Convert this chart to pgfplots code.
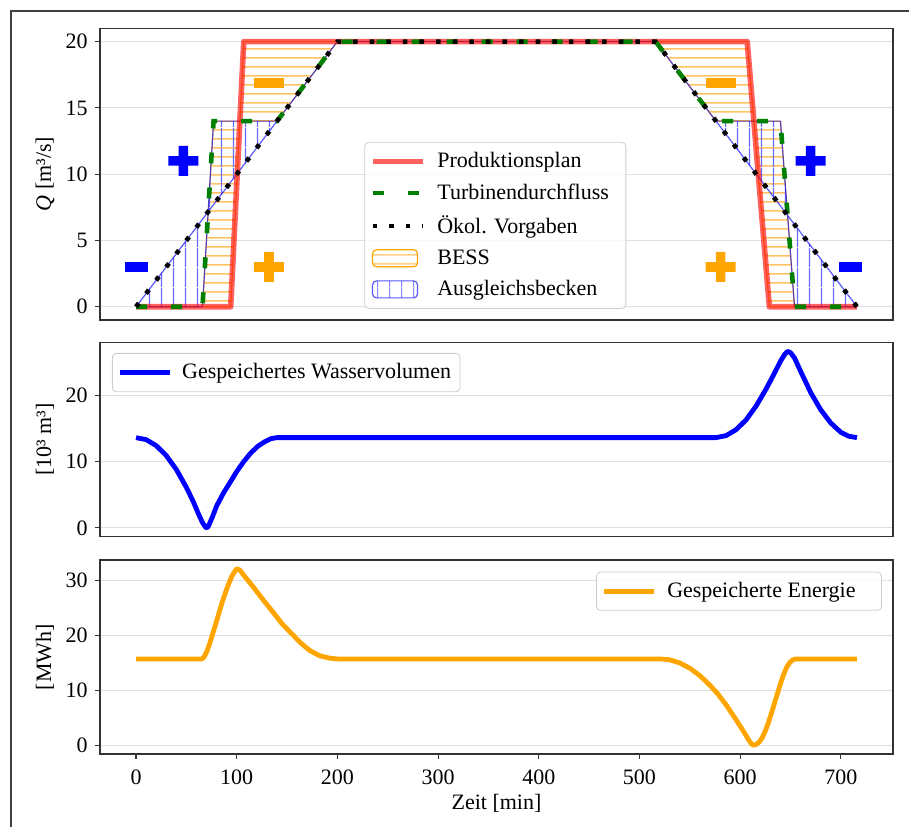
\documentclass[border=0pt]{standalone}
\usepackage{fontspec}
\setmainfont{Liberation Serif}
\usepackage{pgfplots}
\pgfplotsset{compat=1.18}
\usetikzlibrary{patterns}

\definecolor{mplorange}{RGB}{255,165,0}
\definecolor{mplgreen}{RGB}{0,128,0}
\definecolor{hatchblue}{RGB}{105,105,255}
\definecolor{hatchorange}{RGB}{255,195,100}

\pgfdeclarepatterninherentlycolored{hOrange}{\pgfpointorigin}{\pgfpoint{10pt}{4.5pt}}{\pgfpoint{10pt}{4.5pt}}{%
  \pgfsetstrokecolor{hatchorange}\pgfsetlinewidth{0.85pt}%
  \pgfpathmoveto{\pgfpoint{0pt}{2.25pt}}\pgfpathlineto{\pgfpoint{10pt}{2.25pt}}\pgfusepath{stroke}}
\pgfdeclarepatterninherentlycolored{vBlue}{\pgfpointorigin}{\pgfpoint{6pt}{10pt}}{\pgfpoint{6pt}{10pt}}{%
  \pgfsetstrokecolor{hatchblue}\pgfsetlinewidth{0.6pt}%
  \pgfpathmoveto{\pgfpoint{3pt}{0pt}}\pgfpathlineto{\pgfpoint{3pt}{10pt}}\pgfusepath{stroke}}

\pgfdeclareplotmark{fatplus}{%
  \pgfpathrectangle{\pgfpoint{-7.5pt}{-2.4pt}}{\pgfpoint{15pt}{4.8pt}}%
  \pgfpathrectangle{\pgfpoint{-2.4pt}{-7.5pt}}{\pgfpoint{4.8pt}{15pt}}%
  \pgfusepathqfill}
\pgfdeclareplotmark{fatminus}{%
  \pgfpathrectangle{\pgfpoint{-7.5pt}{-2.5pt}}{\pgfpoint{15pt}{5pt}}%
  \pgfusepathqfill}
\pgfdeclareplotmark{fatminussmall}{%
  \pgfpathrectangle{\pgfpoint{-5.8pt}{-2.3pt}}{\pgfpoint{11.6pt}{4.6pt}}%
  \pgfusepathqfill}

\pgfplotsset{
  myaxis/.style={
    scale only axis, width=396.5pt,
    xmin=-35.8, xmax=751.8,
    axis line style={black!80, line width=0.6pt},
    major tick style={black!80, line width=0.6pt},
    major tick length=2.6pt, tick align=outside,
    ymajorgrids, grid style={black!12, line width=0.6pt},
    ytick pos=left, xtick pos=bottom,
    /pgf/number format/assume math mode=true,
    tick label style={font=\fontsize{11}{13}\selectfont},
    xticklabel style={yshift=-2pt},
    label style={font=\fontsize{11}{13}\selectfont},
    ylabel style={at={(axis description cs:-0.0694,0.5)}, anchor=center},
    legend cell align=left,
    legend style={draw=black!20, rounded corners=2pt, fill=white, fill opacity=0.8,
      text opacity=1, font=\fontsize{11}{13}\selectfont, inner xsep=2.5pt, inner ysep=3pt},
  },
  linelegend/.style={legend image code/.code={\draw[##1] (0pt,0pt) -- (25pt,0pt);}},
}

\begin{document}
\begin{tikzpicture}
\useasboundingbox (0,0) rectangle (454.5pt,-413pt);
\draw[black!75, line width=0.8pt] (5.6pt,-440pt) -- (5.6pt,-5.6pt) -- (470pt,-5.6pt);

% ---------- top panel ----------
\begin{axis}[myaxis, at={(50pt,-14.15pt)}, anchor=north west,
  height=145.85pt, ymin=-1, ymax=21, ytick={0,5,10,15,20}, xtick=\empty,
  ylabel={\textit{Q} [m³/s]},
  legend style={at={(0.4985,0.038)}, anchor=south, row sep=2.6pt}]
% BESS area: between production plan and turbine flow
\addplot[draw=mplorange, draw opacity=0.85, line width=0.6pt, line join=round,
  pattern=hOrange, forget plot] coordinates {
  (0,0) (94,0) (107,20) (607,20) (629,0) (716,0)
  (654,0) (640,14) (576,14) (516,20) (200,20) (140,14) (77,14) (66,0) (0,0)};
% Ausgleichsbecken area: between turbine flow and ecological flow
\addplot[draw=blue, draw opacity=0.65, line width=0.6pt, line join=round,
  pattern=vBlue, forget plot] coordinates {
  (0,0) (66,0) (77,14) (140,14) (200,20) (516,20) (576,14) (640,14) (654,0) (716,0)
  (516,20) (200,20) (0,0)};
\addplot[red, opacity=0.62, line width=2.8pt, line join=round, linelegend]
  coordinates {(0,0) (94,0) (107,20) (607,20) (629,0) (716,0)};
\addlegendentry{\hspace{4pt}Produktionsplan}
\addplot[mplgreen, line width=2.3pt, dash pattern=on 5.5pt off 12pt, linelegend]
  coordinates {(0,0) (66,0) (77,14) (140,14) (200,20) (516,20) (576,14) (640,14) (654,0) (716,0)};
\addlegendentry{\hspace{4pt}Turbinendurchfluss\kern4pt}
\addplot[black, line width=2.3pt, dash pattern=on 2.3pt off 6pt, linelegend]
  coordinates {(0,0) (200,20) (516,20) (716,0)};
\addlegendentry{\hspace{4pt}Ökol. Vorgaben}
\addlegendimage{legend image code/.code={\draw[mplorange, line width=0.6pt, pattern=hOrange] (0pt,-4.25pt) rectangle (22.5pt,4.25pt);}}
\addlegendentry{\hspace{4pt}BESS}
\addlegendimage{legend image code/.code={\draw[blue!65, line width=0.6pt, pattern=vBlue] (0pt,-4.25pt) rectangle (22.5pt,4.25pt);}}
\addlegendentry{\hspace{4pt}Ausgleichsbecken}
\addplot[only marks, mark=fatplus, blue, forget plot] coordinates {(47,11.0) (670,11.0)};
\addplot[only marks, mark=fatminussmall, blue, forget plot] coordinates {(0.7,3.0) (709.7,3.0)};
\addplot[only marks, mark=fatplus, mplorange, forget plot] coordinates {(132,3.0) (580.6,3.0)};
\addplot[only marks, mark=fatminus, mplorange, forget plot] coordinates {(132,16.9) (580.6,16.9)};
\end{axis}

% ---------- middle panel ----------
\begin{axis}[myaxis, at={(50pt,-171.35pt)}, anchor=north west,
  height=97pt, ymin=-1.33, ymax=27.9, ytick={0,10,20}, xtick=\empty,
  ylabel={[10³ m³]},
  legend style={at={(0.0151,0.947)}, anchor=north west}]
\addplot[blue, line width=2.4pt, line join=round, linelegend] coordinates {
 (0,13.6) (10,13.3) (20,12.4) (30,10.9) (40,8.8) (50,6.1) (57,3.9) (62,2.1) (66,0.8) (69,0.1)
 (70.5,0.0) (72,0.3) (76,1.7) (80,3.3) (87,5.3) (94,7.0) (100,8.5) (107,10.0) (114,11.3)
 (121,12.3) (128,13.0) (134,13.45) (140,13.6) (576,13.6) (586,13.9) (596,14.8) (606,16.3)
 (616,18.4) (626,21.0) (634,23.3) (640,25.1) (644,26.1) (647,26.6) (650,26.4) (654,25.6)
 (660,23.6) (670,20.4) (680,17.8) (690,15.8) (700,14.4) (708,13.8) (716,13.6)};
\addlegendentry{\hspace{3pt}Gespeichertes Wasservolumen}
\end{axis}

% ---------- bottom panel ----------
\begin{axis}[myaxis, at={(50pt,-280pt)}, anchor=north west,
  height=97pt, ymin=-1.6, ymax=33.7, ytick={0,10,20,30}, xtick={0,100,...,700},
  ylabel={[MWh]}, xlabel={Zeit [min]},
  xlabel style={at={(axis description cs:0.5,-0.2526)}, anchor=center},
  legend style={at={(0.9861,0.940)}, anchor=north east}]
\addplot[mplorange, line width=2.4pt, line join=round, linelegend] coordinates {
 (0,15.7) (65,15.7) (67,15.9) (70,16.9) (73,18.4) (76,20.2) (80,22.6) (86,26.3) (91,28.9)
 (95,30.7) (98,31.6) (100,32.1) (103,31.9) (108,30.7) (116,28.9) (126,26.5) (137,24.0)
 (145,22.1) (154,20.4) (163,18.7) (172,17.3) (182,16.3) (192,15.85) (200,15.7) (521,15.7)
 (530,15.54) (540,14.98) (550,14.02) (560,12.66) (570,10.9) (578,9.3) (587,7.1) (595,4.9)
 (603,2.6) (608,1.1) (611,0.3) (613,0.0) (616,0.15) (619,0.6) (622,1.4) (625,2.6) (628,4.1)
 (631,5.8) (634,7.6) (637,9.4) (640,11.2) (643,12.8) (646,14.1) (649,15.0) (652,15.5)
 (655,15.7) (716,15.7)};
\addlegendentry{\hspace{3.5pt}Gespeicherte Energie\kern8.5pt}
\end{axis}
\end{tikzpicture}
\end{document}
